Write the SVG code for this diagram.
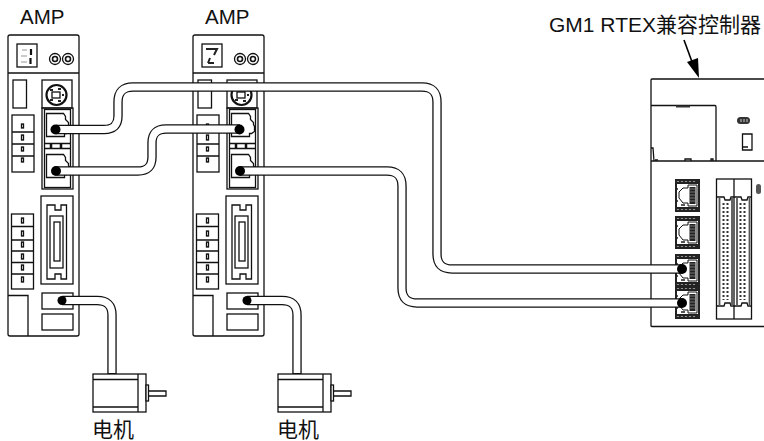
<svg xmlns="http://www.w3.org/2000/svg" width="764" height="441" viewBox="0 0 764 441">
<style>
.l{fill:none;stroke:#111;stroke-width:1.3}
.w{fill:#fff;stroke:#111;stroke-width:1.3}
.t{fill:#111;font-family:"Liberation Sans","Noto Sans CJK SC",sans-serif}
.co{fill:none;stroke:#111;stroke-width:9.4}
.ci{fill:none;stroke:#fff;stroke-width:6.8}
.d{fill:#000}
</style>
<defs>
<g id="rj">
<path class="l" d="M0 0H17L19 3V6L22 9V11L23 13V18L20 20H18V23H0Z"/>
</g>
<g id="amp">
<path class="w" d="M10 35H77Q79 35 79 37V334Q79 336 77 336H10Q8 336 8 334V37Q8 35 10 35Z"/>
<path class="l" d="M8 73H79"/>
<rect class="l" x="17" y="44" width="20" height="23"/>
<circle class="l" cx="55" cy="59" r="5.500" stroke-width="1.600"/><circle cx="55" cy="59" r="2.500" fill="none" stroke="#111" stroke-width="1.600"/>
<circle class="l" cx="68" cy="59" r="5.500" stroke-width="1.600"/><circle cx="68" cy="59" r="2.500" fill="none" stroke="#111" stroke-width="1.600"/>
<rect class="l" x="13" y="80" width="13.500" height="28"/>
<rect class="l" x="42" y="80" width="30" height="28"/>
<circle cx="56.500" cy="95" r="10" fill="none" stroke="#111" stroke-width="2.200"/>
<rect class="l" x="52" y="92" width="8" height="6"/>
<path d="M50 90H53M58 89H61M50 100H53M58 101H61M63 94V96" stroke="#222" stroke-width="2" fill="none"/>
<rect class="l" x="42" y="108" width="31" height="81" stroke-width="1.500"/>
<rect class="l" x="44.500" y="109.500" width="26" height="78"/>
<use href="#rj" x="46.500" y="113.500"/>
<use href="#rj" x="46.500" y="154.500"/>
<path class="l" d="M44 143.500H71M44 148.500H71"/>
<path d="M51 144V148M61 144V148" stroke="#111" stroke-width="2.500" fill="none"/>
<rect class="l" x="12" y="115" width="22" height="57"/>
<path class="l" d="M12 132H34M12 144H34M12 156H34"/>
<rect class="l" x="21.500" y="124" width="2" height="4"/><rect class="l" x="21.500" y="135" width="2" height="5"/>
<rect class="l" x="21.500" y="147" width="2" height="4"/><rect class="l" x="21.500" y="158" width="2" height="4"/>
<rect class="l" x="11.500" y="214" width="22" height="75"/>
<path class="l" d="M11.500 226.500H33.500M11.500 240H33.500M11.500 251H33.500M11.500 262.500H33.500M11.500 274H33.500"/>
<rect class="l" x="21.500" y="218" width="2" height="5"/><rect class="l" x="21.500" y="231" width="2" height="5"/>
<rect class="l" x="21.500" y="242" width="2" height="5"/><rect class="l" x="21.500" y="254" width="2" height="5"/>
<rect class="l" x="21.500" y="265" width="2" height="5"/><rect class="l" x="21.500" y="277" width="2" height="5"/>
<rect class="l" x="41" y="196" width="32" height="88"/>
<path class="l" d="M47 205H55V210H61V205H66.500V279H61V274H55V279H47Z"/>
<rect class="l" x="50" y="216" width="13" height="52"/>
<rect class="l" x="54" y="222" width="6" height="39"/>
<rect class="w" x="42" y="293" width="31" height="16"/>
<rect class="l" x="42" y="314" width="31" height="16"/>
<path class="l" d="M8 295.500H28V336"/>
</g>
<g id="motor">
<rect class="w" x="93" y="374" width="53" height="38"/>
<path class="l" d="M93 379.500H138M93 407H138M138 374V412"/>
<rect class="w" x="146" y="385" width="2.500" height="16"/>
<path class="l" d="M148.500 391H166V396H148.500"/>
</g>
<g id="crj">
<rect x="0" y="0" width="25" height="33" fill="#222"/>
<path d="M3 2V2.500M7 2V2.500M11 2V2.500M15 2V2.500M19 2V2.500M3 31V30.500M7 31V30.500M11 31V30.500M15 31V30.500M19 31V30.500" stroke="#fff" stroke-width="2.200" fill="none"/>
<rect x="2" y="5" width="21" height="23" fill="#fff"/>
<path d="M13 6H22V27H13V24H8L4 19V13L8 9H13Z" fill="#fff" stroke="#111"/>
<rect x="14.500" y="8" width="6" height="17" fill="#222"/>
<path d="M14.500 10H20.500M14.500 13H20.500M14.500 16H20.500M14.500 19H20.500M14.500 22H20.500" stroke="#999" stroke-width="0.700"/>
<path d="M1.500 10H3M1.500 22H3M6 26H10" stroke="#222" stroke-width="1.500"/>
</g>
</defs>

<g id="amp1"><use href="#amp"/>
<path d="M31 49V55M30.500 58V64" stroke="#111" stroke-width="2.200" fill="none"/>
<path d="M22 50H27M21 56H27M21 62H27" stroke="#bbb" stroke-width="1.500" fill="none"/></g>
<g id="amp2"><use href="#amp" x="185"/>
<path d="M206 49H217L214 55M208 63L210 58M208 63H214" fill="none" stroke="#222" stroke-width="2"/></g>
<g id="motor1"><use href="#motor"/></g>
<g id="motor2"><use href="#motor" x="185"/></g>

<g id="controller">
<path class="w" d="M764 79H652Q651 79 651 80V326Q651 326.500 652 326.500H764"/>
<path class="l" d="M651 161H764"/>
<path class="l" d="M651 105.500H715Q716 105.500 716 107V161"/>
<path d="M676 106.500H690" stroke="#333" stroke-width="2" fill="none"/>
<path class="l" d="M651 148H653L654 161M655 160H658M685 161V159H691V161M711 161V159H713V161"/>
<rect x="737" y="117" width="13" height="7" rx="3.500" fill="#333"/>
<path d="M741 119V122M744 119V122M747 119V122" stroke="#ccc" stroke-width="1"/>
<path class="l" d="M742.500 134H752V150H742.500ZM742.500 147H748"/>
<use href="#crj" x="675" y="179"/>
<use href="#crj" x="675" y="216"/>
<use href="#crj" x="675" y="254"/>
<use href="#crj" x="675" y="286"/>
<rect class="l" x="716.500" y="179" width="35" height="140"/>
<path class="l" d="M734 179V319M717 197H724L725 200H730L731 197H734M734 197H741L742 200H747L748 197H751.500M717 306H724L725 303H730L731 306H734M734 306H741L742 303H747L748 306H751.500"/>
<path d="M719.500 197V306M732 197V306M737 197V306M749.500 197V306" stroke="#555" stroke-width="1.800" fill="none"/>
<path d="M723.500 203V300M727.500 203V300M740.500 203V300M744.500 203V300" stroke="#333" stroke-width="2" stroke-dasharray="2 2" fill="none"/>
<rect x="756" y="184" width="5" height="10" rx="2.500" fill="#555"/>
</g>

<g id="connectors">
<path id="arrow" d="M684 40L695 70" stroke="#000" stroke-width="1.600" fill="none"/>
<path d="M687 62L698 58L699 78Z" fill="#000"/>
<g class="cables">
<path class="co" d="M56 129.500H104Q118 129.500 118 116V102Q118 87 133 87H422Q437 87 437 102V254Q437 269 452 269H682"/>
<path class="co" d="M57 171H138Q152 171 152 157V143Q152 129 166 129H240"/>
<path class="co" d="M240 171H387Q402 171 402 186V288Q402 303 417 303H682"/>
<path class="co" d="M62 300.500H97Q112 300.500 112 315V374"/>
<path class="co" d="M247 300.500H282Q297 300.500 297 315V374"/>
<path class="ci" d="M56 129.500H104Q118 129.500 118 116V102Q118 87 133 87H422Q437 87 437 102V254Q437 269 452 269H682"/>
<path class="ci" d="M57 171H138Q152 171 152 157V143Q152 129 166 129H240"/>
<path class="ci" d="M240 171H387Q402 171 402 186V288Q402 303 417 303H682"/>
<path class="ci" d="M62 300.500H97Q112 300.500 112 315V373"/>
<path class="ci" d="M247 300.500H282Q297 300.500 297 315V373"/>
</g>
<circle class="d" cx="55.500" cy="129.500" r="5"/><circle class="d" cx="56" cy="171" r="5"/>
<circle class="d" cx="239.500" cy="129.500" r="5"/><circle class="d" cx="240" cy="171" r="5"/>
<circle class="d" cx="62" cy="300.500" r="4.500"/><circle class="d" cx="247" cy="300.500" r="4.500"/>
<circle class="d" cx="682" cy="269" r="5"/><circle class="d" cx="682" cy="303" r="5"/>
</g>

<text class="t" x="20" y="24" font-size="20.500">AMP</text>
<text class="t" x="205" y="24" font-size="20.500">AMP</text>
<text class="t" x="549" y="32" font-size="21">GM1 RTEX兼容控制器</text>
<text class="t" x="92" y="437" font-size="21">电机</text>
<text class="t" x="277" y="437" font-size="21">电机</text>
</svg>
